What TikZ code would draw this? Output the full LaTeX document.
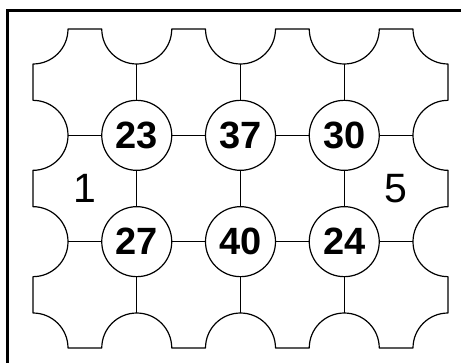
\documentclass[tikz,border=0pt]{standalone}
\usepackage{fontspec}
\setmainfont{Liberation Sans}
\begin{document}
\begin{tikzpicture}[x=1pt,y=1pt,
  outline/.style={draw=black,line width=1.2pt,line join=round},
  gridline/.style={draw=black,line width=1.1pt},
  numcircle/.style={circle,draw=black,line width=1.2pt,minimum size=70pt,inner sep=0pt,font=\fontsize{38}{38}\selectfont\bfseries},
  sidelabel/.style={inner sep=0pt,font=\fontsize{41}{41}\selectfont}]
\useasboundingbox (0,0) rectangle (461,362);
\clip (0,0) rectangle (461,362);
\fill[white] (0,0) rectangle (461,362);
% frame (right and bottom lie outside the picture)
\draw[line width=3pt] (7.5,-20) rectangle (480,351.5);
% outline
\draw[outline] (68,333)
  -- (101.75,333) arc[start angle=180,end angle=360,radius=35]
  -- (205.5,333) arc[start angle=180,end angle=360,radius=35]
  -- (309.25,333) arc[start angle=180,end angle=360,radius=35]
  -- (413,333) arc[start angle=180,end angle=270,radius=35]
  -- (448,261.67) arc[start angle=90,end angle=270,radius=35]
  -- (448,155.33) arc[start angle=90,end angle=270,radius=35]
  -- (448,49) arc[start angle=90,end angle=180,radius=35]
  -- (379.25,14) arc[start angle=0,end angle=180,radius=35]
  -- (275.5,14) arc[start angle=0,end angle=180,radius=35]
  -- (171.75,14) arc[start angle=0,end angle=180,radius=35]
  -- (68,14) arc[start angle=0,end angle=90,radius=35]
  -- (33,85.33) arc[start angle=-90,end angle=90,radius=35]
  -- (33,191.67) arc[start angle=-90,end angle=90,radius=35]
  -- (33,298) arc[start angle=-90,end angle=0,radius=35]
  -- cycle;
% nodes
\node[numcircle] (c23) at (136.75,226.67) {23};
\node[numcircle] (c37) at (240.5,226.67) {37};
\node[numcircle] (c30) at (344.25,226.67) {30};
\node[numcircle] (c27) at (136.75,120.33) {27};
\node[numcircle] (c40) at (240.5,120.33) {40};
\node[numcircle] (c24) at (344.25,120.33) {24};
\node[sidelabel] (l1) at (85,173.5) {1};
\node[sidelabel] (l5) at (396,173.5) {5};
% free ends on the outline
\coordinate (t1) at (136.75,298);
\coordinate (t2) at (240.5,298);
\coordinate (t3) at (344.25,298);
\coordinate (b1) at (136.75,49);
\coordinate (b2) at (240.5,49);
\coordinate (b3) at (344.25,49);
\coordinate (lu) at (68,226.67);
\coordinate (ll) at (68,120.33);
\coordinate (ru) at (413,226.67);
\coordinate (rl) at (413,120.33);
% grid lines
\draw[gridline] (t1) -- (c23) (c23) -- (c27) (c27) -- (b1);
\draw[gridline] (t2) -- (c37) (c37) -- (c40) (c40) -- (b2);
\draw[gridline] (t3) -- (c30) (c30) -- (c24) (c24) -- (b3);
\draw[gridline] (lu) -- (c23) (c23) -- (c37) (c37) -- (c30) (c30) -- (ru);
\draw[gridline] (ll) -- (c27) (c27) -- (c40) (c40) -- (c24) (c24) -- (rl);
\end{tikzpicture}
\end{document}
